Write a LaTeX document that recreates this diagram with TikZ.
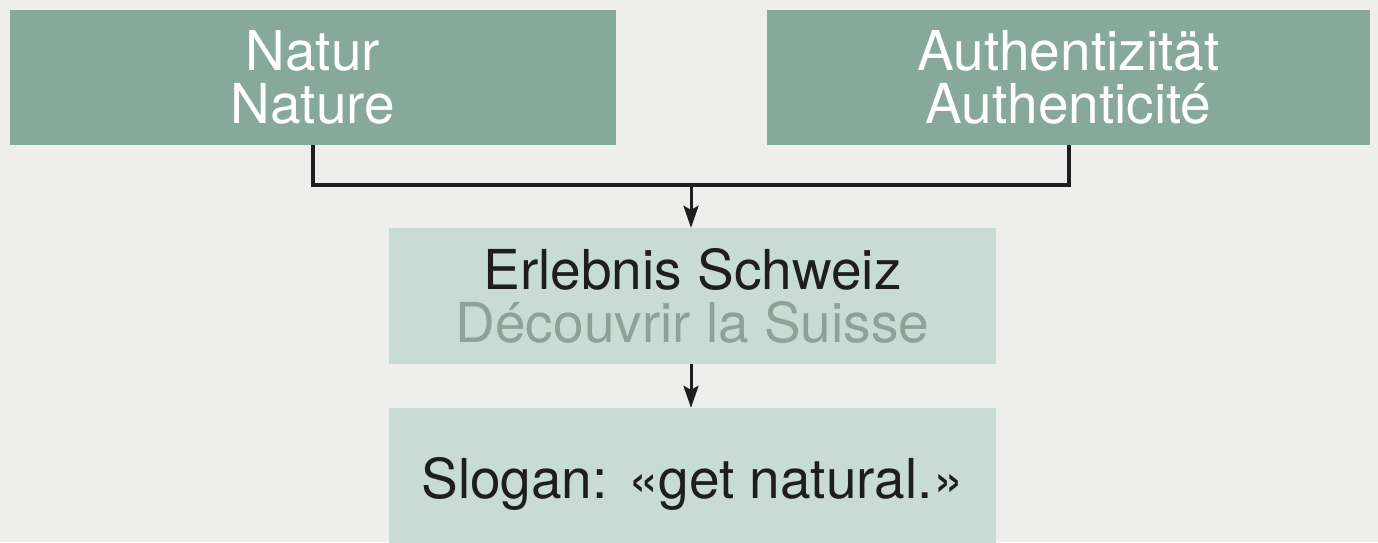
\documentclass[tikz,border=0pt]{standalone}
\usepackage{fontspec}
\setmainfont{TeX Gyre Heros}
\usetikzlibrary{arrows.meta}
\definecolor{bg}{HTML}{EEEEEC}
\definecolor{darkbox}{HTML}{87A99B}
\definecolor{lightbox}{HTML}{C8DCD5}
\definecolor{ink}{HTML}{1E1E1E}
\definecolor{soft}{HTML}{8CA497}
\tikzset{
  topbox/.style={fill=darkbox, text=white, inner sep=0pt, minimum height=135pt, align=center, font=\fontsize{55}{53}\selectfont},
  lowbox/.style={fill=lightbox, text=ink, inner sep=0pt, minimum width=607pt, align=center, font=\fontsize{55}{53}\selectfont},
  conn/.style={draw=ink, line width=4pt},
  arr/.style={draw=ink, line width=3pt, -{Stealth[length=22pt, width=15pt, inset=4pt]}}
}
\begin{document}
\begin{tikzpicture}[x=1pt,y=-1pt]
\path[use as bounding box, fill=bg] (0,0) rectangle (1378,542);
\clip (0,0) rectangle (1378,542);
\node[topbox, minimum width=606pt] (A) at (313,77.5) {Natur\\Nature};
\node[topbox, minimum width=603pt] (B) at (1068.5,77.5) {Authentizität\\Authenticité};
\node[lowbox, minimum height=136pt] (C) at (692.5,296) {Erlebnis Schweiz\\\textcolor{soft}{Découvrir la Suisse}};
\node[lowbox, minimum height=139pt, text depth=0pt] (D) at (692.5,477.5) {Slogan: «get natural.»};
\coordinate (j) at (691,185);
\draw[conn] (A.south) |- (j) -| (B.south);
\draw[arr] (j) -- (j |- C.north);
\draw[arr] (C.south -| j) -- (D.north -| j);
\end{tikzpicture}
\end{document}
